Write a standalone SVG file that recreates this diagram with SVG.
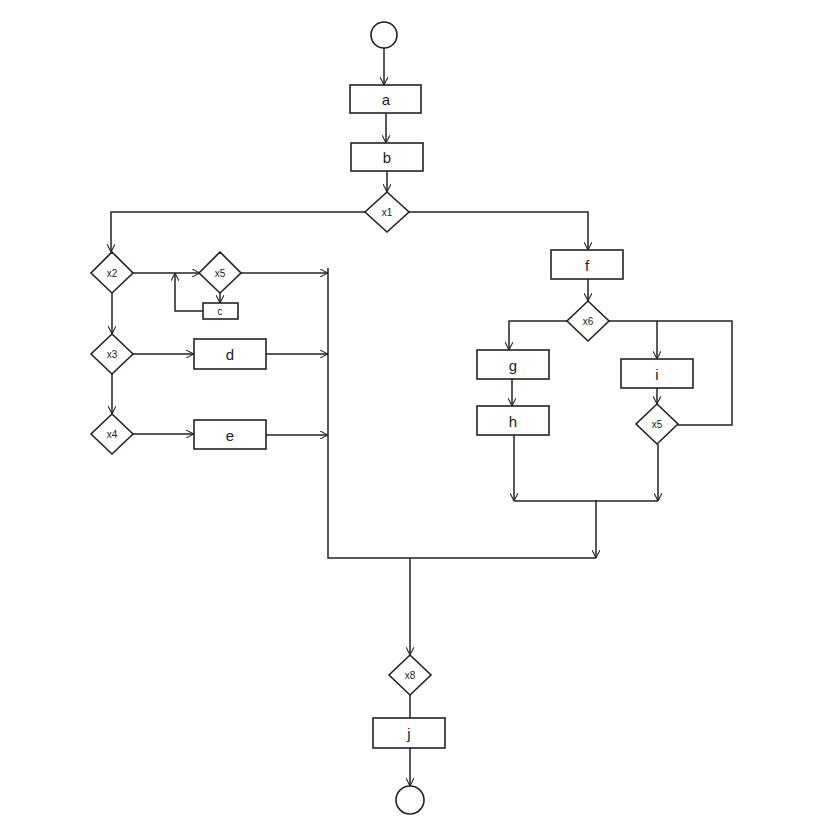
<svg xmlns="http://www.w3.org/2000/svg" width="822" height="819" viewBox="0 0 822 819">
<defs>
<marker id="ar" viewBox="0 0 10 10" refX="10" refY="5" markerWidth="8" markerHeight="8" orient="auto-start-reverse" markerUnits="userSpaceOnUse"><path d="M0,0 L10,5 L0,10" fill="none" stroke="#222" stroke-width="1.3"/></marker>
<style>
.s{fill:#fff;stroke:#222;stroke-width:1.6}
.l{fill:none;stroke:#222;stroke-width:1.5}
.t{font-family:"Liberation Sans",sans-serif;font-size:15px;fill:#222;text-anchor:middle;dominant-baseline:central}
.d{font-family:"Liberation Sans",sans-serif;font-size:10px;fill:#222;text-anchor:middle;dominant-baseline:central}
</style>
</defs>
<rect width="822" height="819" fill="#fff"/>
<g id="connectors" class="l">
<path d="M384,48 V85" marker-end="url(#ar)"/>
<path d="M386,113 V143" marker-end="url(#ar)"/>
<path d="M387,171 V192" marker-end="url(#ar)"/>
<path d="M365,212 H111 V252" marker-end="url(#ar)"/>
<path d="M409,212 H588 V250" marker-end="url(#ar)"/>
<path d="M133,273 H200" marker-end="url(#ar)"/>
<path d="M220,293 V303" marker-end="url(#ar)"/>
<path d="M203,311 H175 V273" marker-end="url(#ar)"/>
<path d="M241,273 H328" marker-end="url(#ar)"/>
<path d="M112,293 V334" marker-end="url(#ar)"/>
<path d="M112,374 V414" marker-end="url(#ar)"/>
<path d="M133,354 H194" marker-end="url(#ar)"/>
<path d="M266,354 H328" marker-end="url(#ar)"/>
<path d="M133,434 H194" marker-end="url(#ar)"/>
<path d="M266,435 H328" marker-end="url(#ar)"/>
<path d="M328,268 V558 H596"/>
<path d="M596,500 V558" marker-end="url(#ar)"/>
<path d="M588,279 V301" marker-end="url(#ar)"/>
<path d="M567,321 H509 V350" marker-end="url(#ar)"/>
<path d="M609,321 H732 V425 H678"/>
<path d="M657,321 V359" marker-end="url(#ar)"/>
<path d="M657,388 V404" marker-end="url(#ar)"/>
<path d="M512,379 V406" marker-end="url(#ar)"/>
<path d="M514,435 V501" marker-end="url(#ar)"/>
<path d="M658,444 V501" marker-end="url(#ar)"/>
<path d="M514,501 H658"/>
<path d="M410,558 V655" marker-end="url(#ar)"/>
<path d="M410,695 V718"/>
<path d="M410,748 V786" marker-end="url(#ar)"/>
</g>
<g id="start"><circle class="s" cx="384" cy="35" r="13"/></g>
<g id="a"><rect class="s" x="350" y="85" width="71" height="28"/><text class="t" x="386" y="99">a</text></g>
<g id="b"><rect class="s" x="351" y="143" width="72" height="28"/><text class="t" x="387" y="157">b</text></g>
<g id="x1"><path class="s" d="M387,192 L409,212 L387,232 L365,212Z"/><text class="d" x="387" y="212">x1</text></g>
<g id="x2"><path class="s" d="M112,252 L133,273 L112,293 L91,273Z"/><text class="d" x="112" y="273">x2</text></g>
<g id="x5a"><path class="s" d="M220,252 L241,273 L220,293 L199,273Z"/><text class="d" x="220" y="273">x5</text></g>
<g id="c"><rect class="s" x="203" y="303" width="35" height="16"/><text class="d" x="220" y="311">c</text></g>
<g id="x3"><path class="s" d="M112,334 L133,354 L112,374 L91,354Z"/><text class="d" x="112" y="354">x3</text></g>
<g id="d"><rect class="s" x="194" y="339" width="72" height="30"/><text class="t" x="230" y="354">d</text></g>
<g id="x4"><path class="s" d="M112,414 L133,434 L112,454 L91,434Z"/><text class="d" x="112" y="434">x4</text></g>
<g id="e"><rect class="s" x="194" y="420" width="72" height="29"/><text class="t" x="230" y="435">e</text></g>
<g id="f"><rect class="s" x="551" y="250" width="72" height="29"/><text class="t" x="587" y="265">f</text></g>
<g id="x6"><path class="s" d="M588,301 L609,321 L588,341 L567,321Z"/><text class="d" x="588" y="321">x6</text></g>
<g id="g"><rect class="s" x="477" y="350" width="72" height="29"/><text class="t" x="513" y="365">g</text></g>
<g id="h"><rect class="s" x="477" y="406" width="72" height="29"/><text class="t" x="513" y="421">h</text></g>
<g id="i"><rect class="s" x="621" y="359" width="72" height="29"/><text class="t" x="657" y="374">i</text></g>
<g id="x5b"><path class="s" d="M657,404 L678,424 L657,444 L636,424Z"/><text class="d" x="657" y="424">x5</text></g>
<g id="x8"><path class="s" d="M410,655 L431,675 L410,695 L389,675Z"/><text class="d" x="410" y="675">x8</text></g>
<g id="j"><rect class="s" x="373" y="718" width="72" height="30"/><text class="t" x="409" y="733">j</text></g>
<g id="end"><circle class="s" cx="410" cy="800" r="14"/></g>
</svg>
